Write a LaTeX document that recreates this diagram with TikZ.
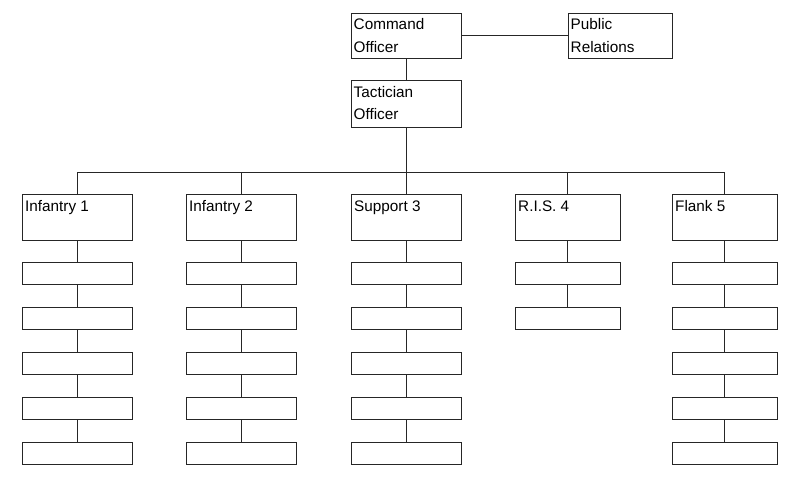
\documentclass[tikz,border=0pt]{standalone}
\usepackage{fontspec}
\setmainfont{Liberation Sans}
\begin{document}
\begin{tikzpicture}[x=1pt,y=-1pt,
  box/.style={draw=black!85, line width=1pt, inner sep=0pt, anchor=north west},
  lbl/.style={anchor=base west, inner sep=0pt, align=left, font=\fontsize{15.3}{22.7}\selectfont},
  link/.style={draw=black!85, line width=1pt}]
\useasboundingbox (0,0) rectangle (800,477);
% top
\node[box, minimum width=110pt, minimum height=45pt] (co) at (350.5,12.5) {};
\node[lbl] (tco) at (353.5,52) {Command\\Officer};
\node[box, minimum width=104pt, minimum height=45pt] (pr) at (567.5,12.5) {};
\node[lbl] (tpr) at (570.5,52) {Public\\Relations};
\node[box, minimum width=110pt, minimum height=46.5pt] (to) at (350.5,80) {};
\node[lbl] (tto) at (353.5,119.7) {Tactician\\Officer};
\draw[link] (co.east) -- (pr.west);
\draw[link] (co.south) -- (to.north);
\coordinate (bus) at (405.5,172);
\draw[link] (to.south) -- (to.south |- bus);
% columns
\foreach \i/\x/\w/\n/\t in {1/21.5/110/5/Infantry 1, 2/185.5/110/5/Infantry 2, 3/350.5/110/5/Support 3, 4/514.5/105/2/R.I.S. 4, 5/671.5/105/5/Flank 5} {
  \node[box, minimum width=\w pt, minimum height=45.5pt] (h\i) at (\x,194) {};
  \node[lbl] (t\i) at (\x+3.5,211) {\t};
  \draw[link] (h\i.north) -- (h\i.north |- bus);
  \foreach \j in {1,...,\n} {
    \node[box, minimum width=\w pt, minimum height=22.5pt] (s\i-\j) at (\x,{261.5+45*(\j-1)}) {};
  }
  \draw[link] (h\i.south) -- (s\i-1.north);
  \foreach \j in {2,...,\n} {
    \pgfmathtruncatemacro\k{\j-1}
    \draw[link] (s\i-\k.south) -- (s\i-\j.north);
  }
}
\draw[link] (h1.north |- bus) -- (h5.north |- bus);
\end{tikzpicture}
\end{document}
